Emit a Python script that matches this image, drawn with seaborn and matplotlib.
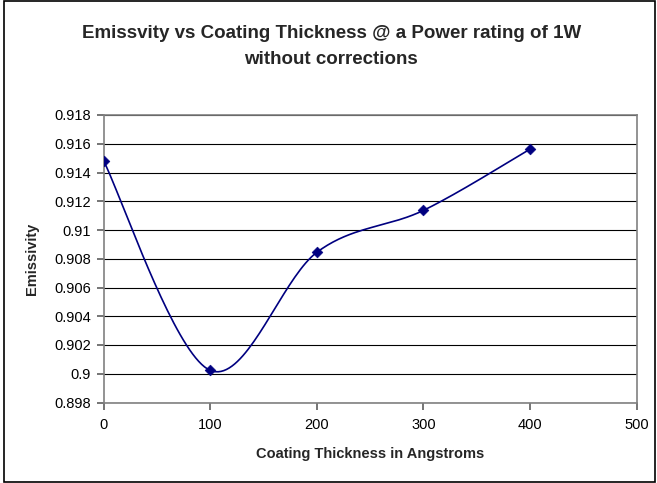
import numpy as np
import pandas as pd
import seaborn as sns
import matplotlib
matplotlib.use("Agg")
import matplotlib.pyplot as plt
from matplotlib.patches import Rectangle

thickness = [0, 100, 200, 300, 400]
emissivity = [0.91483, 0.90024, 0.90844, 0.91136, 0.91562]
x_ticks = [0, 100, 200, 300, 400, 500]
y_ticks = [0.898, 0.9, 0.902, 0.904, 0.906, 0.908, 0.91, 0.912, 0.914, 0.916, 0.918]
y_tick_labels = ["0.898", "0.9", "0.902", "0.904", "0.906", "0.908", "0.91", "0.912", "0.914", "0.916", "0.918"]
title_lines = ["Emissvity vs Coating Thickness @ a Power rating of 1W", "without corrections"]

sns.set_theme(style="ticks")
plt.rcParams['font.family'] = ['Liberation Sans', 'DejaVu Sans']

fig = plt.figure(figsize=(6.57, 4.83), dpi=100)
ax = fig.add_axes([103.5 / 657, 1 - 402.5 / 483, 533 / 657, 287.5 / 483])

# Excel-style smoothed line (Bezier through the points, in pixel space)
ax.set_xlim(0, 500)
ax.set_ylim(0.898, 0.918)
fig.canvas.draw()
pts = ax.transData.transform(np.column_stack([thickness, emissivity]))
n = len(pts)
curve = []
for i in range(n - 1):
    p0 = pts[i - 1] if i > 0 else pts[i]
    p1 = pts[i]
    p2 = pts[i + 1]
    p3 = pts[i + 2] if i + 2 < n else pts[i + 1]
    c1 = p1 + (p2 - p0) / 6.0
    c2 = p2 - (p3 - p1) / 6.0
    t = np.linspace(0, 1, 40)[:, None]
    seg = (1 - t) ** 3 * p1 + 3 * (1 - t) ** 2 * t * c1 + 3 * (1 - t) * t ** 2 * c2 + t ** 3 * p2
    curve.append(seg if i == 0 else seg[1:])
curve = ax.transData.inverted().transform(np.vstack(curve))
curve_df = pd.DataFrame({"x": curve[:, 0], "y": curve[:, 1]})

for yv in y_ticks:
    ax.axhline(yv, color="black", lw=0.8, zorder=1)

sns.lineplot(data=curve_df, x="x", y="y", sort=False, color="#000080", lw=1.2, ax=ax, zorder=3)
df = pd.DataFrame({"t": thickness, "e": emissivity})
sns.scatterplot(data=df, x="t", y="e", marker="D", s=30, color="#000080", edgecolor="#000080", ax=ax, zorder=4)

ax.set_xlim(0, 500)
ax.set_ylim(0.898, 0.918)
ax.set_xticks(x_ticks)
ax.set_xticklabels([str(v) for v in x_ticks], fontsize=10.5)
ax.set_yticks(y_ticks)
ax.set_yticklabels(y_tick_labels, fontsize=10.5)
ax.tick_params(axis="both", which="major", bottom=True, left=True, top=False, right=False,
               direction="out", length=5, width=1.1, color="#505050", pad=4, labelcolor="black")
ax.tick_params(axis="x", pad=6)
for s in ax.spines.values():
    s.set_visible(True)
    s.set_color("#808080")
    s.set_linewidth(1.2)

ax.set_xlabel("Coating Thickness in Angstroms", fontsize=10.5, fontweight="bold", labelpad=11)
ax.set_ylabel("Emissivity", fontsize=10.5, fontweight="bold", labelpad=11)

fig.text(0.504, 1 - 34 / 483, title_lines[0], ha="center", va="center", fontsize=13.5, fontweight="bold")
fig.text(0.504, 1 - 60 / 483, title_lines[1], ha="center", va="center", fontsize=13.5, fontweight="bold")

fig.add_artist(Rectangle((0.006, 0.002), 0.991, 0.995, transform=fig.transFigure,
                         fill=False, edgecolor="black", lw=1.2))

fig.savefig("out.png", dpi=100)
